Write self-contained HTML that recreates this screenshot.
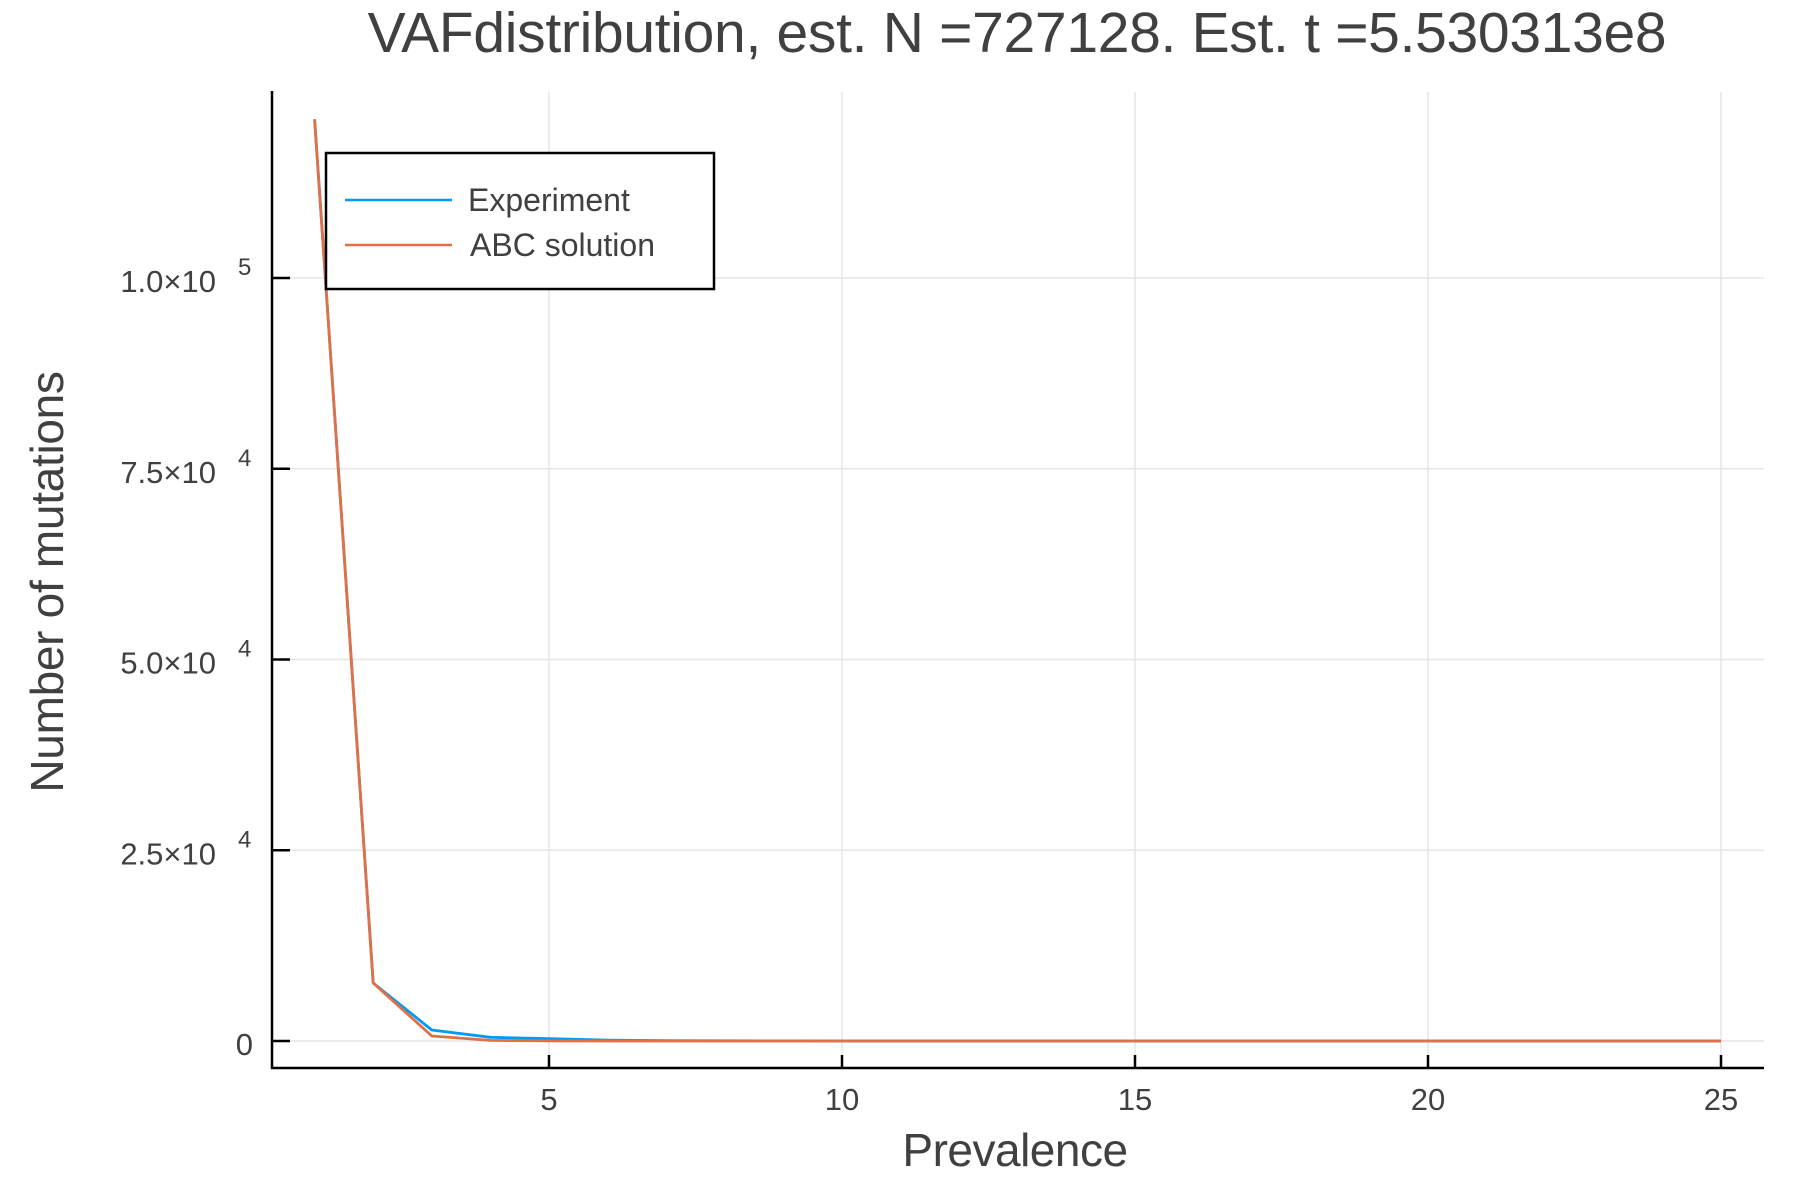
<!DOCTYPE html>
<html><head><meta charset="utf-8"><style>
html,body{margin:0;padding:0;background:#fff;}
svg{display:block;font-family:"Liberation Sans",sans-serif;}
</style></head><body>
<svg id="chart" width="1800" height="1200" viewBox="0 0 1800 1200" xmlns="http://www.w3.org/2000/svg">
<text x="1017" y="52" font-size="57" fill="#404040" text-anchor="middle" letter-spacing="-0.3">VAFdistribution, est. N =727128. Est. t =5.530313e8</text>
<g id="grid"></g>
<g id="ticks"></g>
<g id="series"></g>
<line x1="272" y1="91" x2="272" y2="1069" stroke="#000" stroke-width="2.5"/>
<line x1="271" y1="1068" x2="1764" y2="1068" stroke="#000" stroke-width="2.5"/>
<text x="1015" y="1166" font-size="46" fill="#404040" text-anchor="middle" letter-spacing="-0.5">Prevalence</text>
<text transform="translate(63,582) rotate(-90)" font-size="46" fill="#404040" text-anchor="middle" letter-spacing="-0.3">Number of mutations</text>
<g>
<rect x="326" y="153" width="388" height="136" fill="#fff" stroke="#000" stroke-width="2.5"/>
<line x1="345" y1="200" x2="452" y2="200" stroke="#009af9" stroke-width="2.5"/>
<text x="468" y="211" font-size="32" fill="#404040">Experiment</text>
<line x1="345" y1="245" x2="452" y2="245" stroke="#e26f46" stroke-width="2.5"/>
<text x="470" y="256" font-size="32" fill="#404040">ABC solution</text>
</g>
</svg>
<script>
const prevalence = [1,2,3,4,5,6,7,8,9,10,11,12,13,14,15,16,17,18,19,20,21,22,23,24,25];
const experimentCounts = [120800,7600,1440,480,300,100,40,20,10,5,3,2,1,1,0,0,0,0,0,0,0,0,0,0,0];
const abcCounts = [120800,7600,650,80,10,2,0,0,0,0,0,0,0,0,0,0,0,0,0,0,0,0,0,0,0];
const xTicks = [5,10,15,20,25];
const xTickLabels = ["5","10","15","20","25"];
const yTicks = [0,25000,50000,75000,100000];
const yTickMantissa = ["0","2.5×10","5.0×10","7.5×10","1.0×10"];
const yTickExp = ["","4","4","4","5"];

const NS="http://www.w3.org/2000/svg";
function xs(v){return 314.6+(v-1)*58.6;}
function ys(v){return 1041-v/100000*763;}
function mk(tag,attrs,parent){const e=document.createElementNS(NS,tag);for(const k in attrs)e.setAttribute(k,attrs[k]);parent.appendChild(e);return e;}
const grid=document.getElementById('grid'),ticks=document.getElementById('ticks'),series=document.getElementById('series');
xTicks.forEach((t,i)=>{
  const g=mk('line',{x1:xs(t),x2:xs(t),y1:92,y2:1068,stroke:'#e6e6e6','stroke-width':1.5},grid);
  
  
  const tk=mk('line',{x1:xs(t),x2:xs(t),y1:1068,y2:1055,stroke:'#000','stroke-width':2.5},ticks);
  
  
  const tl=mk('text',{x:xs(t),y:1110,'font-size':31,fill:'#404040','text-anchor':'middle'},ticks);
  tl.textContent=xTickLabels[i];
  
  
});
yTicks.forEach((t,i)=>{
  const y=ys(t);
  const g=mk('line',{x1:272,x2:1764,y1:y,y2:y,stroke:'#e6e6e6','stroke-width':1.5},grid);
  
  
  const tk=mk('line',{x1:272,x2:290,y1:y,y2:y,stroke:'#000','stroke-width':2.5},ticks);
  
  
  const tl=mk('text',{x:i===0?253:216,y:y+14,'font-size':31,fill:'#404040','text-anchor':'end'},ticks);
  tl.textContent=yTickMantissa[i];
  
  
  if(yTickExp[i]){
    const ex=mk('text',{x:238,y:y-3,'font-size':24,fill:'#404040'},ticks);
    ex.textContent=yTickExp[i];
    
    
  }
});
function path(vals,color,name){
  const d=vals.map((v,i)=>(i?'L':'M')+xs(prevalence[i]).toFixed(1)+' '+ys(v).toFixed(1)).join(' ');
  const p=mk('path',{d:d,fill:'none',stroke:color,'stroke-width':2.8,'stroke-linejoin':'round'},series);
  
  
}
path(experimentCounts,'#009af9','experiment-line');
path(abcCounts,'#e26f46','abc-solution-line');
</script>
</body></html>
